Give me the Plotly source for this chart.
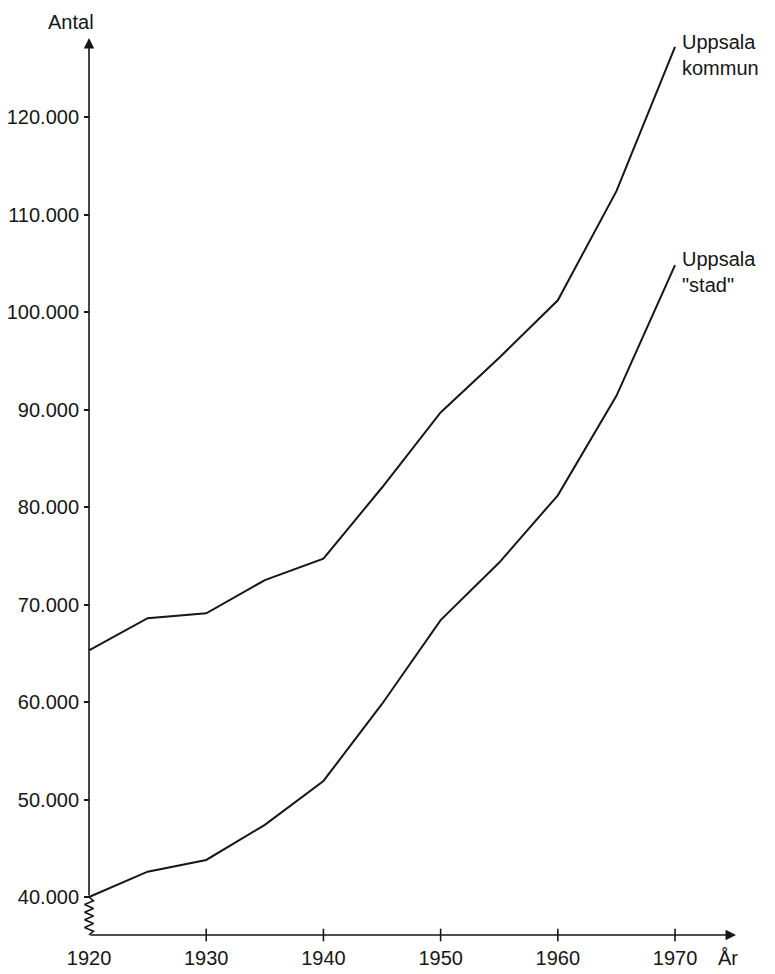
import numpy as np
import plotly.graph_objects as go

# data
years = [1920, 1925, 1930, 1935, 1940, 1945, 1950, 1955, 1960, 1965, 1970]
kommun = [65300, 68600, 69100, 72500, 74700, 82000, 89700, 95300, 101200, 112400, 127200]
stad = [40000, 42600, 43800, 47400, 51900, 59800, 68400, 74300, 81200, 91400, 104800]
x_ticks = [1920, 1930, 1940, 1950, 1960, 1970]
y_ticks = [40000, 50000, 60000, 70000, 80000, 90000, 100000, 110000, 120000]
y_labels = ["40.000", "50.000", "60.000", "70.000", "80.000", "90.000",
            "100.000", "110.000", "120.000"]

FONT = "Liberation Sans, Arial, Helvetica, sans-serif"
INK = "#161616"
FS = 20

X_RANGE = [1919.23, 1975.97]
Y_RANGE = [35590, 128923]
X_ORIGIN = 1920
Y_BREAK = 40000          # where the broken axis starts
Y_AXIS = 36103           # level of the drawn x-axis
X_END = 1975.2
Y_END = 128103

fig = go.Figure()

for vals in (kommun, stad):
    fig.add_trace(go.Scatter(x=years, y=vals, mode="lines",
                             line=dict(color=INK, width=2), hoverinfo="skip"))

# zigzag break on the y-axis between the x-axis and 40.000
n = 10
zz_y = np.linspace(Y_AXIS, Y_BREAK, n + 1)
zz_x = [X_ORIGIN + (0.38 if i % 2 else -0.38) if 0 < i < n else X_ORIGIN for i in range(n + 1)]
fig.add_trace(go.Scatter(x=zz_x, y=zz_y, mode="lines",
                         line=dict(color=INK, width=1.6), hoverinfo="skip"))

# x tick marks crossing the axis line
fig.add_trace(go.Scatter(x=x_ticks[1:], y=[Y_AXIS] * (len(x_ticks) - 1), mode="markers",
                         marker=dict(symbol="line-ns", size=9,
                                     line=dict(color=INK, width=1.6)),
                         cliponaxis=False, hoverinfo="skip"))

# axis arrows
fig.add_annotation(x=X_END, y=Y_AXIS, ax=X_ORIGIN, ay=Y_AXIS, xref="x", yref="y",
                   axref="x", ayref="y", text="", showarrow=True,
                   arrowhead=2, arrowsize=1.3, arrowwidth=1.6, arrowcolor=INK)
fig.add_annotation(x=X_ORIGIN, y=Y_END, ax=X_ORIGIN, ay=Y_BREAK, xref="x", yref="y",
                   axref="x", ayref="y", text="", showarrow=True,
                   arrowhead=2, arrowsize=1.3, arrowwidth=1.6, arrowcolor=INK)

# series labels
fig.add_annotation(x=years[-1], y=kommun[-1], text="Uppsala<br>kommun", showarrow=False,
                   xanchor="left", yanchor="middle", align="left", xshift=5, yshift=-8,
                   font=dict(family=FONT, size=FS, color=INK))
fig.add_annotation(x=years[-1], y=stad[-1], text="Uppsala<br>\"stad\"", showarrow=False,
                   xanchor="left", yanchor="middle", align="left", xshift=5, yshift=-7,
                   font=dict(family=FONT, size=FS, color=INK))

# axis titles
fig.add_annotation(x=(71 - 80) / 665, y=1 + 8 / 910, xref="paper", yref="paper",
                   xanchor="center", yanchor="middle", text="Antal", showarrow=False,
                   font=dict(family=FONT, size=FS, color=INK))
fig.add_annotation(x=X_END - 0.7, y=Y_AXIS, text="År", showarrow=False,
                   yshift=-23, font=dict(family=FONT, size=FS, color=INK))

# the page body keeps an 8px margin, so the figure is drawn 8px smaller and offset
fig.update_layout(
    width=767, height=966,
    margin=dict(l=72, r=30, t=22, b=34),
    paper_bgcolor="white", plot_bgcolor="white",
    showlegend=False,
    font=dict(family=FONT, size=FS, color=INK),
    xaxis=dict(range=X_RANGE, showgrid=False, zeroline=False, showline=False,
               tickvals=x_ticks, ticktext=[str(v) for v in x_ticks], ticks="",
               anchor="free", position=5 / 910, ticklabelstandoff=9, automargin=False),
    yaxis=dict(range=Y_RANGE, showgrid=False, zeroline=False, showline=False,
               tickvals=y_ticks, ticktext=y_labels, ticks="outside", ticklen=5,
               tickwidth=1.6, tickcolor=INK, anchor="free", position=9 / 665,
               ticklabelstandoff=1, automargin=False),
)

fig.write_html("out.html")
